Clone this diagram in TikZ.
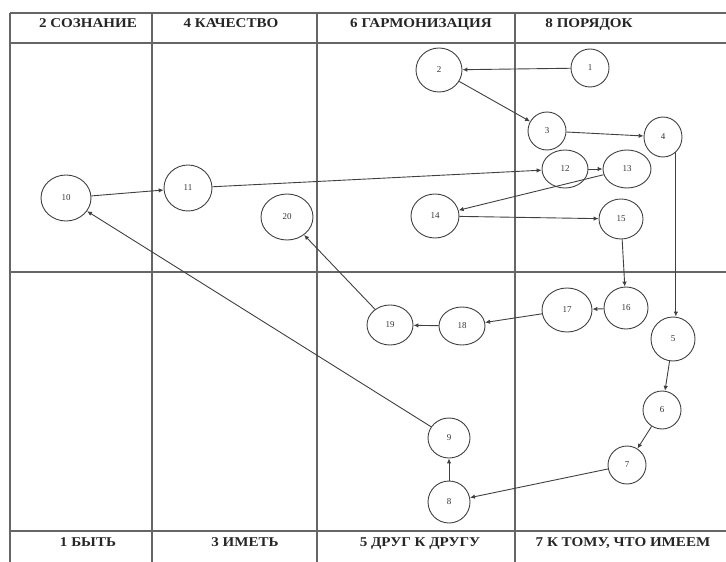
\documentclass[tikz,border=0pt]{standalone}
\usepackage{fontspec}
\setmainfont{Liberation Serif}
\newfontfamily\hdrfont{Liberation Serif}[FakeStretch=1.12]
\usetikzlibrary{shapes.geometric,arrows.meta}
\begin{document}
\begin{tikzpicture}[x=1bp,y=-1bp,
  grid/.style={draw=black!60,line width=1.1bp},
  hdr/.style={font=\hdrfont\fontsize{13.5}{15}\selectfont\bfseries,text=black!85,inner sep=0,anchor=base},
  nd/.style={ellipse,draw=black!75,line width=0.9bp,inner sep=0,font=\fontsize{9}{10}\selectfont,text=black!80},
  edge/.style={draw=black!75,line width=0.9bp,-{Latex[length=5pt,width=4.5pt]}}]
\useasboundingbox (0,0) rectangle (726,562);
% table
\draw[grid] (10,13) -- (726,13);
\draw[grid] (10,43) -- (726,43);
\draw[grid] (10,272) -- (726,272);
\draw[grid] (10,531) -- (726,531);
\foreach \x in {10,152,317,515} \draw[grid] (\x,13) -- (\x,562);
% labels
\node[hdr] (h2) at (88,28) {2 СОЗНАНИЕ};
\node[hdr] (h4) at (231,28) {4 КАЧЕСТВО};
\node[hdr] (h6) at (421,28) {6 ГАРМОНИЗАЦИЯ};
\node[hdr] (h8) at (589,28) {8 ПОРЯДОК};
\node[hdr] (f1) at (88,546) {1 БЫТЬ};
\node[hdr] (f3) at (245,546) {3 ИМЕТЬ};
\node[hdr] (f5) at (420,546) {5 ДРУГ К ДРУГУ};
\node[hdr] (f7) at (623,546) {7 К ТОМУ, ЧТО ИМЕЕМ};
% nodes
\node[nd,minimum width=38bp,minimum height=38bp] (n1) at (590,68) {1};
\node[nd,minimum width=46bp,minimum height=44bp] (n2) at (439,70) {2};
\node[nd,minimum width=38bp,minimum height=38bp] (n3) at (547,131) {3};
\node[nd,minimum width=38bp,minimum height=40bp] (n4) at (663,137) {4};
\node[nd,minimum width=44bp,minimum height=44bp] (n5) at (673,339) {5};
\node[nd,minimum width=38bp,minimum height=38bp] (n6) at (662,410) {6};
\node[nd,minimum width=38bp,minimum height=38bp] (n7) at (627,465) {7};
\node[nd,minimum width=42bp,minimum height=42bp] (n8) at (449,502) {8};
\node[nd,minimum width=42bp,minimum height=40bp] (n9) at (449,438) {9};
\node[nd,minimum width=50bp,minimum height=46bp] (n10) at (66,198) {10};
\node[nd,minimum width=48bp,minimum height=46bp] (n11) at (188,188) {11};
\node[nd,minimum width=46bp,minimum height=38bp] (n12) at (565,169) {12};
\node[nd,minimum width=48bp,minimum height=38bp] (n13) at (627,169) {13};
\node[nd,minimum width=48bp,minimum height=44bp] (n14) at (435,216) {14};
\node[nd,minimum width=44bp,minimum height=40bp] (n15) at (621,219) {15};
\node[nd,minimum width=44bp,minimum height=42bp] (n16) at (626,308) {16};
\node[nd,minimum width=50bp,minimum height=44bp] (n17) at (567,310) {17};
\node[nd,minimum width=46bp,minimum height=38bp] (n18) at (462,326) {18};
\node[nd,minimum width=46bp,minimum height=40bp] (n19) at (390,325) {19};
\node[nd,minimum width=52bp,minimum height=46bp] (n20) at (287,217) {20};
% edges
\draw[edge] (n1) -- (n2);
\draw[edge] (n2) -- (n3);
\draw[edge] (n3) -- (n4);
\draw[edge] (n4.-50) -- (n4.-50 |- n5.north);
\draw[edge] (n5) -- (n6);
\draw[edge] (n6) -- (n7);
\draw[edge] (n7) -- (n8);
\draw[edge] (n8) -- (n9);
\draw[edge] (n9) -- (n10);
\draw[edge] (n10) -- (n11);
\draw[edge] (n11) -- (n12);
\draw[edge] (n12) -- (n13);
\draw[edge] (n13) -- (n14);
\draw[edge] (n14) -- (n15);
\draw[edge] (n15) -- (n16);
\draw[edge] (n16) -- (n17);
\draw[edge] (n17) -- (n18);
\draw[edge] (n18) -- (n19);
\draw[edge] (n19) -- (n20);
\end{tikzpicture}
\end{document}
